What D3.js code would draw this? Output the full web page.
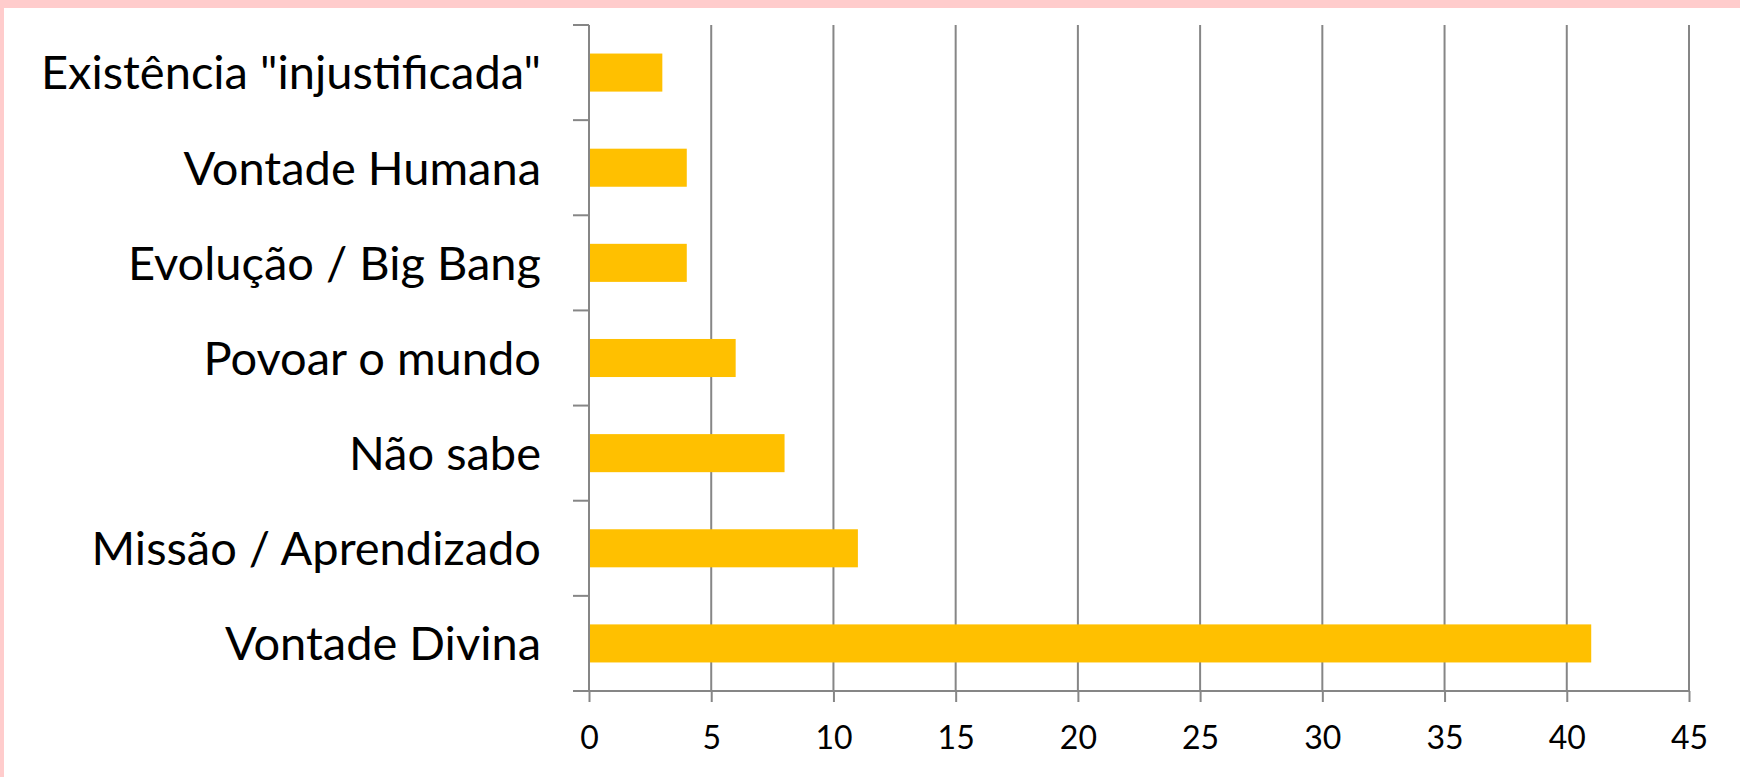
<!DOCTYPE html>
<html>
<head>
<meta charset="utf-8">
<script src="https://cdn.jsdelivr.net/npm/d3@7"></script>
<style>
  html, body { margin: 0; padding: 0; background: #ffcccc; }
  #chart { position: absolute; left: 4px; top: 8px; }
  svg { display: block; }
</style>
</head>
<body>
<div id="chart"></div>
<script>
    // Data, top bar first
    const categories = ['Existência "injustificada"', 'Vontade Humana', 'Evolução / Big Bang',
                        'Povoar o mundo', 'Não sabe', 'Missão / Aprendizado', 'Vontade Divina'];
    const values = [3, 4, 4, 6, 8, 11, 41];
    const xTicks = [0, 5, 10, 15, 20, 25, 30, 35, 40, 45];

    const W = 1736, H = 769; // page minus pink border
    const m = { top: 17, left: 585, right: 51, bottom: 86 };

    const svg = d3.select('#chart').append('svg')
        .attr('width', W)
        .attr('height', H);

    svg.append('rect')
        .attr('width', W).attr('height', H)
        .attr('fill', '#ffffff');

    const x = d3.scaleLinear()
        .domain([0, 45])
        .range([m.left, W - m.right]);

    const y = d3.scaleBand()
        .domain(categories)
        .range([m.top, H - m.bottom])
        .paddingInner(0.6)
        .paddingOuter(0.3);

    const gridColor = '#868686';

    // vertical grid lines
    svg.append('g')
        .selectAll('line')
        .data(xTicks)
        .join('line')
        .attr('x1', d => x(d)).attr('x2', d => x(d))
        .attr('y1', m.top).attr('y2', H - m.bottom)
        .attr('stroke', gridColor)
        .attr('stroke-width', 2);

    // bars
    svg.append('g')
        .selectAll('rect')
        .data(values)
        .join('rect')
        .attr('x', x(0))
        .attr('y', (d, i) => y(categories[i]))
        .attr('width', d => x(d) - x(0))
        .attr('height', y.bandwidth())
        .attr('fill', '#ffc000');

    // x axis
    const xAxis = svg.append('g')
        .attr('transform', `translate(0,${H - m.bottom})`)
        .call(d3.axisBottom(x).tickValues(xTicks).tickSize(11).tickPadding(24).tickSizeOuter(0));
    xAxis.select('.domain').attr('stroke', gridColor).attr('stroke-width', 2)
        .attr('d', `M${x(0) - 16},0H${x(45)}`);
    xAxis.selectAll('.tick line').attr('stroke', gridColor).attr('stroke-width', 2);
    xAxis.selectAll('.tick text')
        .attr('fill', '#000')
        .style('font-family', 'Lato, sans-serif')
        .style('font-size', '32px')
        .attr('dy', '0.71em');

    // y axis: ticks sit on band boundaries
    const step = (H - m.bottom - m.top) / categories.length;
    svg.append('g')
        .selectAll('line')
        .data(d3.range(categories.length + 1))
        .join('line')
        .attr('x1', x(0) - 16).attr('x2', x(0))
        .attr('y1', i => m.top + i * step).attr('y2', i => m.top + i * step)
        .attr('stroke', gridColor)
        .attr('stroke-width', 2);
    svg.append('line')
        .attr('x1', x(0)).attr('x2', x(0))
        .attr('y1', m.top).attr('y2', H - m.bottom)
        .attr('stroke', gridColor).attr('stroke-width', 2);

    svg.append('g')
        .selectAll('text')
        .data(categories)
        .join('text')
        .attr('x', x(0) - 48)
        .attr('y', d => y(d) + y.bandwidth() / 2)
        .attr('dy', '0.36em')
        .attr('text-anchor', 'end')
        .style('font-family', 'Lato, sans-serif')
        .style('font-size', '47px')
        .attr('fill', '#000')
        .text(d => d);
</script>
</body>
</html>
